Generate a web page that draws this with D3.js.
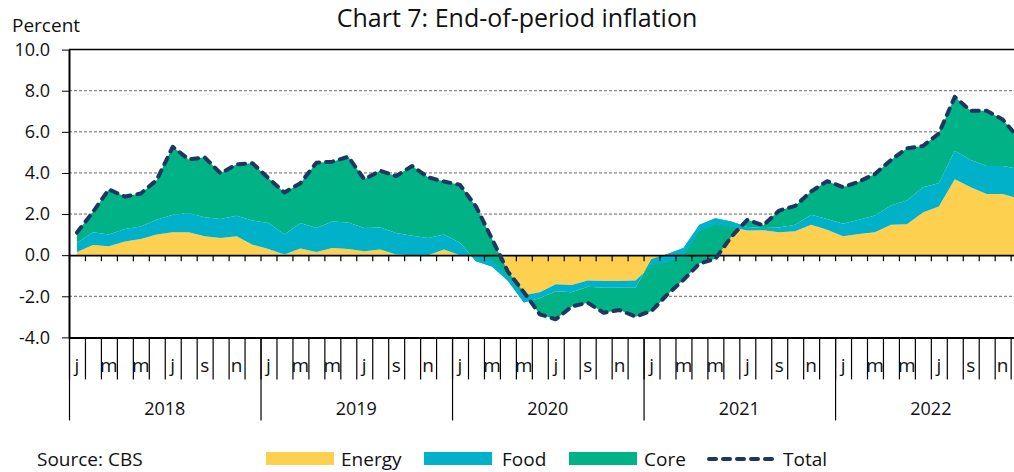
<!DOCTYPE html>
<html>
<head>
<meta charset="utf-8">
<script src="https://cdn.jsdelivr.net/npm/d3@7"></script>
<style>
  html, body { margin: 0; padding: 0; background: #fff; }
  svg { display: block; font-family: "Open Sans", sans-serif; }
</style>
</head>
<body>
<svg id="chart" width="1014" height="472"></svg>
<script>
const years = ["2018", "2019", "2020", "2021", "2022"];
const monthLabels = ["j", "", "m", "", "m", "", "j", "", "s", "", "n", ""];
const yTicks = [-4, -2, 0, 2, 4, 6, 8, 10];

const energy = [
  0.15, 0.50, 0.43, 0.67, 0.79, 1.00, 1.11, 1.11, 0.92, 0.84, 0.92, 0.51,
  0.30, 0.03, 0.32, 0.16, 0.35, 0.30, 0.19, 0.27, 0.03, 0.00, 0.00, 0.27,
  0.00, -0.02, -0.20, -1.00, -1.95, -1.80, -1.42, -1.45, -1.23, -1.26, -1.26, -1.23,
  -0.50, -0.37, -0.05, 1.16, 1.48, 1.37, 1.20, 1.21, 1.11, 1.16, 1.48, 1.24,
  0.92, 1.03, 1.11, 1.48, 1.50, 2.08, 2.37, 3.69, 3.31, 2.97, 2.97, 2.75
];
const food = [
  0.44, 0.61, 0.57, 0.60, 0.61, 0.72, 0.86, 0.94, 0.93, 0.92, 1.00, 1.18,
  1.26, 0.97, 1.24, 1.16, 1.29, 1.29, 1.13, 1.08, 1.05, 0.95, 0.84, 0.73,
  0.60, -0.28, -0.35, -0.25, -0.35, -0.30, -0.33, -0.35, -0.31, -0.32, -0.32, -0.35,
  0.30, 0.43, 0.40, 0.32, 0.32, 0.27, 0.17, 0.11, 0.24, 0.32, 0.49, 0.52,
  0.61, 0.69, 0.82, 0.94, 1.16, 1.23, 1.13, 1.39, 1.32, 1.37, 1.37, 1.45
];
const core = [
  0.51, 0.99, 2.20, 1.58, 1.60, 1.94, 3.30, 2.61, 2.91, 2.22, 2.50, 2.78,
  2.18, 2.05, 1.94, 3.18, 2.91, 3.20, 2.37, 2.76, 2.77, 3.39, 2.95, 2.58,
  2.82, 2.67, 1.35, 0.45, 0.50, -0.78, -1.37, -0.70, -0.77, -1.22, -1.09, -1.41,
  -2.51, -1.97, -1.55, -1.89, -1.98, -0.74, 0.35, 0.13, 0.82, 0.92, 1.13, 1.84,
  1.78, 1.86, 2.02, 2.21, 2.54, 2.00, 2.42, 2.62, 2.39, 2.68, 2.26, 1.50
];
const total = [
  1.10, 2.10, 3.20, 2.85, 3.00, 3.66, 5.27, 4.66, 4.76, 3.98, 4.42, 4.47,
  3.74, 3.05, 3.50, 4.50, 4.55, 4.79, 3.69, 4.11, 3.85, 4.34, 3.79, 3.58,
  3.42, 2.37, 0.80, -0.80, -1.80, -2.88, -3.12, -2.50, -2.31, -2.80, -2.67, -2.99,
  -2.71, -1.91, -1.20, -0.41, -0.18, 0.90, 1.72, 1.45, 2.17, 2.40, 3.10, 3.60,
  3.31, 3.58, 3.95, 4.63, 5.20, 5.31, 5.92, 7.70, 7.02, 7.02, 6.60, 5.70
];

const seriesKeys = ["Energy", "Food", "Core"];
const colors = { Energy: "#FED050", Food: "#00B1C9", Core: "#00B286", Total: "#1D3760" };

const nPts = total.length;
const rows = d3.range(nPts).map(i => ({ i, Energy: energy[i], Food: food[i], Core: core[i] }));

const svg = d3.select("#chart");
const plotLeft = 69, plotTop = 49.6, plotBottom = 337.4;
const monthW = 15.96;
const x = d3.scaleLinear().domain([0, nPts]).range([plotLeft, plotLeft + nPts * monthW]);
const y = d3.scaleLinear().domain([-4, 10]).range([plotBottom, plotTop]);

// gridlines
svg.append("g").selectAll("line")
  .data(yTicks.filter(v => v !== 0 && v !== 10 && v !== -4))
  .join("line")
  .attr("x1", plotLeft).attr("x2", 1014)
  .attr("y1", d => y(d)).attr("y2", d => y(d))
  .attr("stroke", "#666").attr("stroke-width", 1)
  .attr("stroke-dasharray", "3,2");

// top border
svg.append("line").attr("x1", plotLeft).attr("x2", 1014)
  .attr("y1", y(10)).attr("y2", y(10))
  .attr("stroke", "#000").attr("stroke-width", 1.5);

// stacked areas (cumulative stacking)
const stack = d3.stack().keys(seriesKeys).offset(d3.stackOffsetNone);
const layers = stack(rows);
const area = d3.area()
  .x((d, i) => x(i + 0.5))
  .y0(d => y(d[0]))
  .y1(d => y(d[1]));

const drawOrder = ["Energy", "Core", "Food"];
const gAreas = svg.append("g");
drawOrder.forEach(k => {
  const layer = layers.find(l => l.key === k);
  gAreas.append("path").datum(layer)
    .attr("d", area)
    .attr("fill", colors[k]);
});

// zero axis with small ticks
svg.append("g")
  .attr("transform", `translate(0,${y(0)})`)
  .call(d3.axisBottom(x).tickValues(d3.range(0, nPts + 1)).tickSize(6).tickSizeOuter(0).tickFormat(""))
  .call(g => g.select(".domain").attr("stroke", "#000").attr("stroke-width", 1.8))
  .call(g => g.selectAll(".tick line").attr("stroke", "#000").attr("stroke-width", 1.2));

// total line
const line = d3.line().x((d, i) => x(i + 0.5)).y(d => y(d));
svg.append("path").datum(total)
  .attr("d", line)
  .attr("fill", "none")
  .attr("stroke", colors.Total)
  .attr("stroke-width", 4)
  .attr("stroke-linecap", "round")
  .attr("stroke-linejoin", "round")
  .attr("stroke-dasharray", "7,7");

// y axis
const fmt = d3.format(".1f");
svg.append("g")
  .attr("transform", `translate(${plotLeft},0)`)
  .call(d3.axisLeft(y).tickValues(yTicks).tickSize(7).tickSizeOuter(0).tickPadding(12)
    .tickFormat(d => fmt(d).replace("\u2212", "-")))
  .call(g => g.select(".domain").attr("stroke", "#000").attr("stroke-width", 2))
  .call(g => g.selectAll(".tick line").attr("stroke", "#000").attr("stroke-width", 1))
  .call(g => g.selectAll(".tick text").attr("font-size", 18).attr("fill", "#111")
    .attr("font-family", "'Open Sans', sans-serif"));

// bottom category axis: month ticks
svg.append("g")
  .attr("transform", `translate(0,${plotBottom})`)
  .call(d3.axisBottom(x).tickValues(d3.range(0, nPts + 1)).tickSize(42).tickSizeOuter(0).tickFormat(""))
  .call(g => g.select(".domain").attr("stroke", "#000").attr("stroke-width", 2))
  .call(g => g.selectAll(".tick line").attr("stroke", "#000").attr("stroke-width", 1.2));

// year separators
svg.append("g")
  .attr("transform", `translate(0,${plotBottom})`)
  .call(d3.axisBottom(x).tickValues(d3.range(0, nPts + 1, 12)).tickSize(83).tickSizeOuter(0).tickFormat(""))
  .call(g => g.select(".domain").remove())
  .call(g => g.selectAll(".tick line").attr("stroke", "#000").attr("stroke-width", 1.2));

// month labels
svg.append("g").selectAll("text")
  .data(d3.range(nPts).filter(i => monthLabels[i % 12] !== ""))
  .join("text")
  .attr("x", i => x(i + 0.5))
  .attr("y", 372)
  .attr("text-anchor", "middle")
  .attr("font-size", 19)
  .attr("fill", "#111")
  .text(i => monthLabels[i % 12]);

// year labels
svg.append("g").selectAll("text")
  .data(years)
  .join("text")
  .attr("x", (d, j) => x(j * 12 + 6))
  .attr("y", 415)
  .attr("text-anchor", "middle")
  .attr("font-size", 18)
  .attr("fill", "#111")
  .text(d => d);

// title & unit
svg.append("text").attr("x", 517).attr("y", 27).attr("text-anchor", "middle")
  .attr("font-size", 25).attr("fill", "#111").text("Chart 7: End-of-period inflation");
svg.append("text").attr("x", 12).attr("y", 32).attr("font-size", 19).attr("fill", "#111").text("Percent");

// source
svg.append("text").attr("x", 37).attr("y", 466).attr("font-size", 19).attr("fill", "#111").text("Source: CBS");

// legend
const legendItems = [
  { key: "Energy", x: 266, tx: 341 },
  { key: "Food", x: 424, tx: 502 },
  { key: "Core", x: 569, tx: 644 },
  { key: "Total", x: 707, tx: 783 }
];
const lg = svg.append("g");
legendItems.forEach(it => {
  if (it.key === "Total") {
    lg.append("line").attr("x1", it.x + 2).attr("x2", it.x + 68)
      .attr("y1", 459).attr("y2", 459)
      .attr("stroke", colors.Total).attr("stroke-width", 4)
      .attr("stroke-linecap", "round").attr("stroke-dasharray", "7,7");
  } else {
    lg.append("rect").attr("x", it.x).attr("y", 452).attr("width", 68).attr("height", 13)
      .attr("fill", colors[it.key]);
  }
  lg.append("text").attr("x", it.tx).attr("y", 466).attr("font-size", 19).attr("fill", "#111").text(it.key);
});
</script>
</body>
</html>
